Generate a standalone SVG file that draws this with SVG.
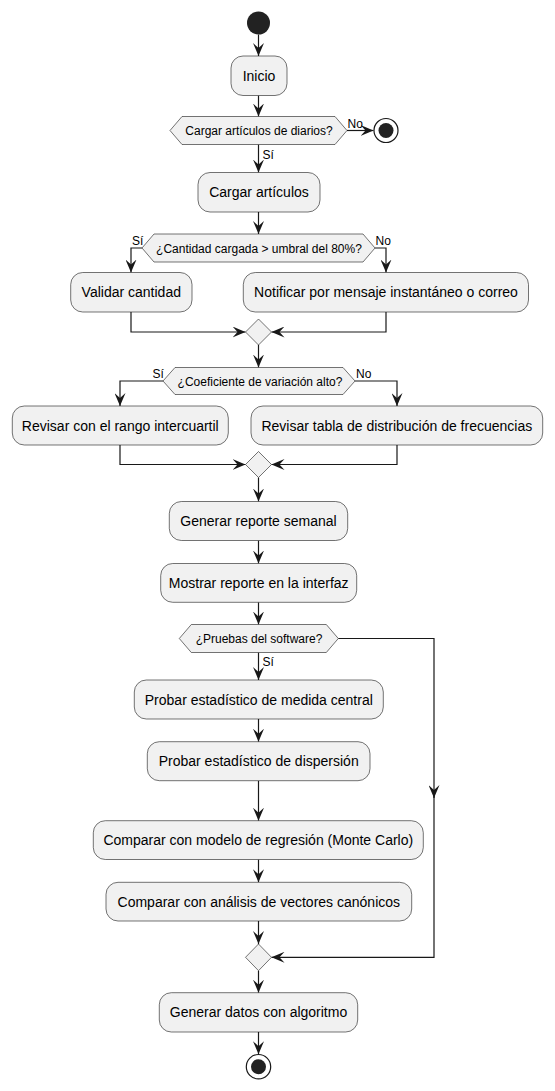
<svg xmlns="http://www.w3.org/2000/svg" width="555" height="1091" viewBox="0 0 555 1091">
<style>
.bg{fill:#ffffff}
.box{fill:#F1F1F1;stroke:#181818;stroke-width:0.6}
.t{font-family:"Liberation Sans",Arial,sans-serif;font-size:14px;fill:#000;text-anchor:middle}
.td{font-family:"Liberation Sans",Arial,sans-serif;font-size:12px;fill:#000;text-anchor:middle}
.lb{font-family:"Liberation Sans",Arial,sans-serif;font-size:12px;fill:#000}
.c{fill:none;stroke:#181818;stroke-width:1.2;marker-end:url(#ah)}
.dot{fill:#222222}
</style>
<defs>
<marker id="ah" markerUnits="userSpaceOnUse" markerWidth="13" markerHeight="11" viewBox="0 0 13 11" refX="13" refY="5.5" orient="auto">
<path d="M0,0 L13,5.5 L0,11 L5,5.5 Z" fill="#181818"/>
</marker>
</defs>
<rect class="bg" x="0" y="0" width="555" height="1091"/>
<g id="connectors">
<line class="c" x1="258.5" y1="34.5" x2="258.5" y2="56"/>
<line class="c" x1="258.5" y1="95.5" x2="258.5" y2="116.5"/>
<line class="c" x1="347" y1="130.5" x2="373.5" y2="130.5"/>
<line class="c" x1="258.5" y1="144.5" x2="258.5" y2="172.5"/>
<line class="c" x1="258.5" y1="212" x2="258.5" y2="234"/>
<polyline class="c" points="142,248 131,248 131,272.5"/>
<polyline class="c" points="375,248 386,248 386,272.5"/>
<polyline class="c" points="131,312 131,332 245.5,332"/>
<polyline class="c" points="386,312 386,332 271.5,332"/>
<line class="c" x1="258.5" y1="345" x2="258.5" y2="367.5"/>
<polyline class="c" points="163,381 120,381 120,406"/>
<polyline class="c" points="355,381 397,381 397,406"/>
<polyline class="c" points="120,445 120,464.5 245.5,464.5"/>
<polyline class="c" points="397,445 397,464.5 271.5,464.5"/>
<line class="c" x1="258.5" y1="477.5" x2="258.5" y2="501.5"/>
<line class="c" x1="258.5" y1="540.5" x2="258.5" y2="563.5"/>
<line class="c" x1="258.5" y1="602.3" x2="258.5" y2="624.5"/>
<line class="c" x1="258.5" y1="652.5" x2="258.5" y2="680"/>
<line class="c" x1="258.5" y1="719" x2="258.5" y2="741.7"/>
<line class="c" x1="258.5" y1="780.7" x2="258.5" y2="820.7"/>
<line class="c" x1="258.5" y1="859.5" x2="258.5" y2="882.3"/>
<line class="c" x1="258.5" y1="921" x2="258.5" y2="944"/>
<polyline class="c" points="338.3,638.5 434,638.5 434,798"/>
<polyline class="c" points="434,796 434,957.3 271.5,957.3"/>
<line class="c" x1="258.5" y1="970.7" x2="258.5" y2="992.7"/>
<line class="c" x1="258.5" y1="1032" x2="258.5" y2="1054.2"/>
<text class="lb" x="347.5" y="127.5">No</text>
<text class="lb" x="262.5" y="158.5">Sí</text>
<text class="lb" x="132" y="245">Sí</text>
<text class="lb" x="375.5" y="245">No</text>
<text class="lb" x="152.5" y="378">Sí</text>
<text class="lb" x="356" y="378">No</text>
<text class="lb" x="262.5" y="666">Sí</text>
</g>
<g id="start"><circle class="dot" cx="258.5" cy="23" r="11.5"/></g>
<g id="inicio"><rect class="box" x="231" y="56" width="56" height="39.5" rx="12"/><text class="t" x="259" y="80.5">Inicio</text></g>
<g id="dec1"><polygon class="box" points="170,130.5 182,116.5 335,116.5 347,130.5 335,144.5 182,144.5"/><text class="td" x="259" y="135">Cargar artículos de diarios?</text></g>
<g id="end1"><circle cx="386" cy="130.5" r="12" fill="#ffffff" stroke="#181818" stroke-width="1.2"/><circle class="dot" cx="386" cy="130.5" r="7.5"/></g>
<g id="cargar"><rect class="box" x="198" y="172.5" width="122" height="39.5" rx="12"/><text class="t" x="259" y="197">Cargar artículos</text></g>
<g id="dec2"><polygon class="box" points="142,248 154,234 363,234 375,248 363,262 154,262"/><text class="td" x="259" y="252.5">¿Cantidad cargada &gt; umbral del 80%?</text></g>
<g id="validar"><rect class="box" x="70.7" y="272.5" width="121.3" height="39.5" rx="12"/><text class="t" x="131.3" y="297">Validar cantidad</text></g>
<g id="notificar"><rect class="box" x="243.3" y="272.5" width="285.2" height="39.5" rx="12"/><text class="t" x="386" y="297">Notificar por mensaje instantáneo o correo</text></g>
<g id="merge1"><polygon class="box" points="258.5,319 271.5,332 258.5,345 245.5,332"/></g>
<g id="dec3"><polygon class="box" points="163,381 175,367.5 343,367.5 355,381 343,394.5 175,394.5"/><text class="td" x="260" y="385.5">¿Coeficiente de variación alto?</text></g>
<g id="rango"><rect class="box" x="12.3" y="406" width="216" height="39" rx="12"/><text class="t" x="120.3" y="430.5">Revisar con el rango intercuartil</text></g>
<g id="tabla"><rect class="box" x="251" y="406" width="291.7" height="39" rx="12"/><text class="t" x="396.8" y="430.5">Revisar tabla de distribución de frecuencias</text></g>
<g id="merge2"><polygon class="box" points="258.5,451.5 271.5,464.5 258.5,477.5 245.5,464.5"/></g>
<g id="generar"><rect class="box" x="169.3" y="501.5" width="178.4" height="39" rx="12"/><text class="t" x="258.5" y="526">Generar reporte semanal</text></g>
<g id="mostrar"><rect class="box" x="160.7" y="563.5" width="196" height="38.8" rx="12"/><text class="t" x="258.7" y="588">Mostrar reporte en la interfaz</text></g>
<g id="dec4"><polygon class="box" points="179.3,638.5 191.3,624.5 326.3,624.5 338.3,638.5 326.3,652.5 191.3,652.5"/><text class="td" x="259" y="643">¿Pruebas del software?</text></g>
<g id="central"><rect class="box" x="134.3" y="680" width="249" height="39" rx="12"/><text class="t" x="258.8" y="704.5">Probar estadístico de medida central</text></g>
<g id="dispersion"><rect class="box" x="147.3" y="741.7" width="222.7" height="39" rx="12"/><text class="t" x="258.7" y="766.2">Probar estadístico de dispersión</text></g>
<g id="montecarlo"><rect class="box" x="93.3" y="820.7" width="330" height="38.8" rx="12"/><text class="t" x="258.3" y="845.2">Comparar con modelo de regresión (Monte Carlo)</text></g>
<g id="vectores"><rect class="box" x="106" y="882.3" width="305.7" height="38.7" rx="12"/><text class="t" x="258.8" y="906.8">Comparar con análisis de vectores canónicos</text></g>
<g id="merge3"><polygon class="box" points="258.5,944 271.5,957.3 258.5,970.7 245.5,957.3"/></g>
<g id="datos"><rect class="box" x="159.3" y="992.7" width="198.4" height="39.3" rx="12"/><text class="t" x="258.5" y="1017.2">Generar datos con algoritmo</text></g>
<g id="end2"><circle cx="258.5" cy="1066.7" r="12.2" fill="#ffffff" stroke="#181818" stroke-width="1.2"/><circle class="dot" cx="258.5" cy="1066.7" r="7.5"/></g>
</svg>
